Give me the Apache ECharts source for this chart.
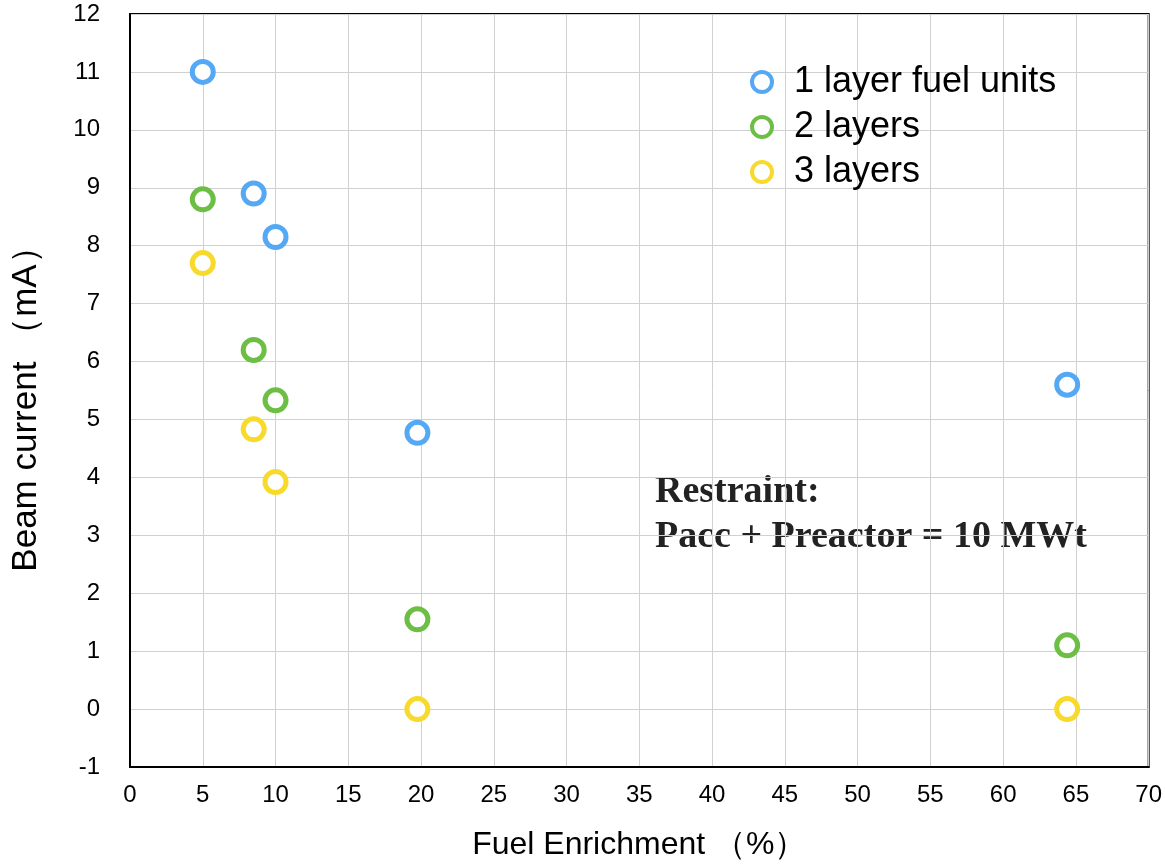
<!DOCTYPE html>
<html><head><meta charset="utf-8">
<script src="https://cdn.jsdelivr.net/npm/echarts@6/dist/echarts.min.js"></script>
<style>html,body{margin:0;padding:0;background:#fff}#c{width:1165px;height:866px}</style>
</head><body><div id="c"></div>
<script>
const seriesNames = ['1 layer fuel units', '2 layers', '3 layers'];
const enrichment = [5, 8.5, 10, 19.75, 64.4];
const oneLayer = [11.0, 8.9, 8.15, 4.77, 5.6];
const twoLayers = [8.8, 6.2, 5.33, 1.55, 1.1];
const threeLayers = [7.7, 4.83, 3.92, 0, 0];
const colors = ['#55A9F4', '#6DBE45', '#F7DA2B'];
const xTitle = 'Fuel Enrichment （%）';
const yTitle = 'Beam current （mA）';
const noteLines = ['Restraint:', 'Pacc + Preactor = 10 MWt'];

const allValues = [oneLayer, twoLayers, threeLayers];
const chart = echarts.init(document.getElementById('c'));
const font = 'Liberation Sans, Arial, Helvetica, sans-serif';
chart.setOption({
  animation: false,
  backgroundColor: '#fff',
  grid: { left: 130, right: 16, top: 14, bottom: 97, show: true, borderColor: '#000', borderWidth: 2 },
  legend: {
    orient: 'vertical', left: 745, top: 59, itemGap: 9, itemWidth: 20, itemHeight: 20,
    data: seriesNames.map((n, i) => ({ name: n, icon: 'circle', itemStyle: { color: '#fff', borderColor: colors[i], borderWidth: 4 } })),
    textStyle: { fontFamily: font, fontSize: 36, color: '#000', padding: [0, 0, 0, 17] }
  },
  xAxis: {
    type: 'value', min: 0, max: 70, interval: 5,
    name: xTitle, nameLocation: 'middle', nameGap: 62,
    nameTextStyle: { fontFamily: font, fontSize: 32, color: '#000' },
    axisLine: { show: true, onZero: false, lineStyle: { color: '#000', width: 2 } },
    axisTick: { show: false },
    axisLabel: { fontFamily: font, fontSize: 24, color: '#000', margin: 16 },
    splitLine: { show: true, lineStyle: { color: '#d0d0d0', width: 1 } }
  },
  yAxis: {
    type: 'value', min: -1, max: 12, interval: 1,
    name: yTitle, nameLocation: 'middle', nameGap: 86,
    nameTextStyle: { fontFamily: font, fontSize: 35, color: '#000', padding: [0, 20, 0, 0] },
    axisLine: { show: true, onZero: false, lineStyle: { color: '#000', width: 2 } },
    axisTick: { show: false },
    axisLabel: { fontFamily: font, fontSize: 24, color: '#000', margin: 30 },
    splitLine: { show: true, lineStyle: { color: '#d0d0d0', width: 1 } }
  },
  series: seriesNames.map((n, i) => ({
    name: n, type: 'scatter', symbol: 'circle', symbolSize: 21,
    itemStyle: { color: '#fff', borderColor: colors[i], borderWidth: 5, opacity: 1 },
    data: enrichment.map((x, j) => [x, allValues[i][j]])
  })),
  graphic: [{
    type: 'text', left: 655, top: 470,
    style: {
      text: noteLines.join('\n'), fontFamily: 'Liberation Serif, Times New Roman, serif',
      fontWeight: 'bold', fontSize: 38, lineHeight: 45, fill: '#222'
    }
  }]
});
</script></body></html>
